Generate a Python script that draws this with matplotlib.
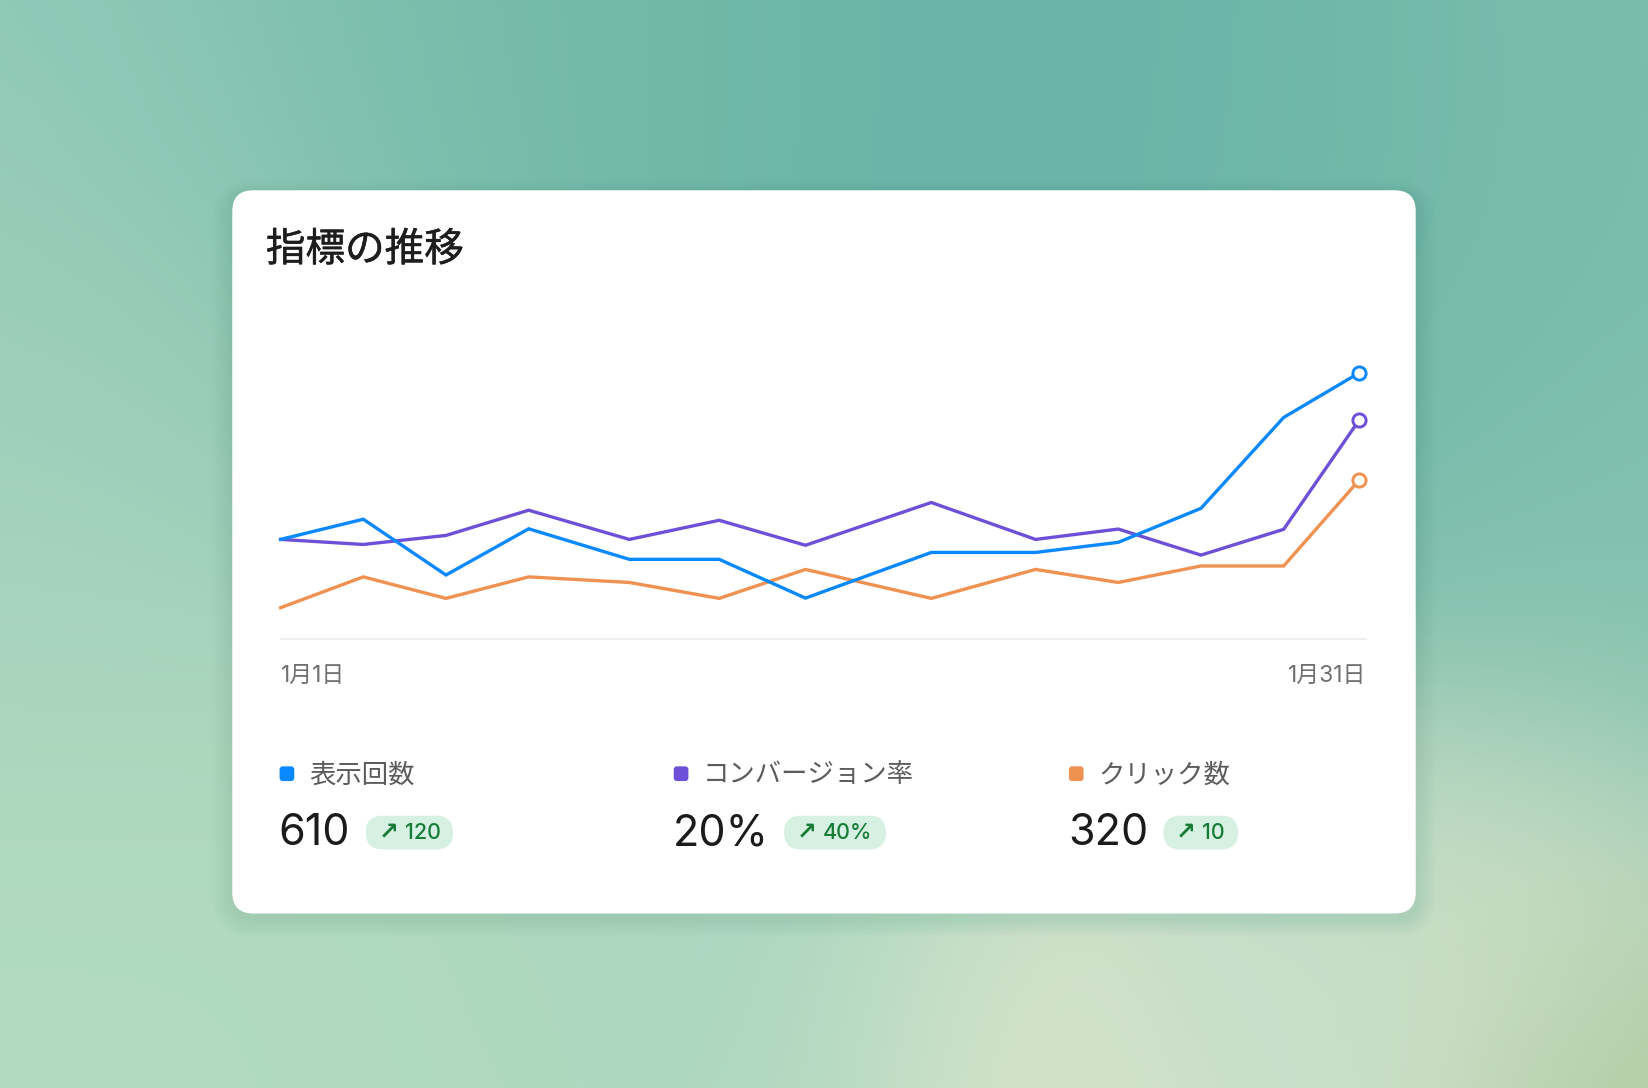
import numpy as np
import matplotlib
matplotlib.use("Agg")
import matplotlib.pyplot as plt
from matplotlib.patches import FancyBboxPatch
from matplotlib.colors import to_rgb
import matplotlib.transforms as mtransforms
import matplotlib.patheffects as pe

plt.rcParams["font.family"] = ["Inter", "Noto Sans CJK JP", "DejaVu Sans"]

# --- data ---
title = "指標の推移"
days = [1, 3.3, 5.6, 7.9, 10.7, 13.2, 15.6, 19.1, 22.0, 24.3, 26.6, 28.9, 31]
impressions = [37.3, 44.9, 23.9, 41.3, 29.8, 29.8, 15.2, 32.4, 32.4, 36.2, 49.0, 83.2, 100.0]
conversion = [37.3, 35.4, 38.8, 48.3, 37.3, 44.5, 35.1, 51.2, 37.3, 41.2, 31.4, 41.1, 82.2]
clicks = [11.6, 23.2, 15.1, 23.2, 21.1, 15.1, 26.0, 15.1, 26.0, 21.1, 27.3, 27.3, 59.6]
tick_days = [1, 31]
tick_labels = ["1月1日", "1月31日"]

metric_names = ["表示回数", "コンバージョン率", "クリック数"]
metric_values = ["610", "20%", "320"]
metric_deltas = ["120", "40%", "10"]
colors = ["#0a89ff", "#6e50d8", "#ef9150"]

# --- figure, drawn in a 1568x1035 reference grid ---
W, H = 1568, 1035
fig = plt.figure(figsize=(16.48, 10.88), dpi=100)
bg = fig.add_axes([0, 0, 1, 1])
bg.set_xlim(0, W)
bg.set_ylim(H, 0)
bg.axis("off")

# soft blurred backdrop
blobs = [
    (0, 60, "#92cab8", 200),
    (450, 60, "#78bdab", 250),
    (950, 80, "#68b2a6", 280),
    (1350, 120, "#6fb7a9", 250),
    (1568, 0, "#80c1b1", 200),
    (1568, 480, "#86c3b0", 230),
    (30, 420, "#a5d2bd", 220),
    (60, 960, "#b2dbbf", 240),
    (520, 1000, "#b0d9be", 220),
    (700, 900, "#a9d5c1", 160),
    (1000, 990, "#dee6cc", 150),
    (1200, 950, "#bedcc8", 130),
    (1420, 900, "#d6e2c8", 160),
    (1568, 1035, "#a8c79c", 110),
]
gx, gy = np.meshgrid(np.linspace(0, W, 200), np.linspace(0, H, 132))
acc = np.zeros(gx.shape + (3,))
wsum = np.zeros(gx.shape)
for bx, by, c, s in blobs:
    w = np.exp(-((gx - bx) ** 2 + (gy - by) ** 2) / (2 * s ** 2))
    acc += w[..., None] * np.array(to_rgb(c))
    wsum += w
img = acc / wsum[..., None]
bg.imshow(img, extent=(0, W, H, 0), interpolation="bicubic", aspect="auto", zorder=0)

# card with a faint shadow
cx, cy, cw, ch = 221, 181, 1126, 688
for i in range(1, 14):
    bg.add_patch(FancyBboxPatch((cx - i * 1.5, cy + 5 - i * 1.1), cw + i * 3.0, ch + i * 2.4,
                                boxstyle="round,pad=0,rounding_size=%g" % (20 + i * 1.5),
                                fc="#2d5e50", ec="none", alpha=0.006, zorder=1))
bg.add_patch(FancyBboxPatch((cx, cy), cw, ch, boxstyle="round,pad=0,rounding_size=20",
                            fc="white", ec="none", zorder=2))

bg.text(253, 238, title, fontsize=28.5, color="#1d1d1d", fontweight="normal",
        family=["Noto Sans CJK JP"], va="center", ha="left", zorder=3,
        path_effects=[pe.withStroke(linewidth=0.35, foreground="#1d1d1d")])

# metric summary blocks
col_x = [266, 641, 1017]
badge_w = [83, 97, 71]
num_w = [82, 105, 90]
for i in range(3):
    x0 = col_x[i]
    bg.add_patch(FancyBboxPatch((x0, 729), 14, 14, boxstyle="round,pad=0,rounding_size=3",
                                fc=colors[i], ec="none", zorder=3))
    bg.text(x0 + 28, 737, metric_names[i], fontsize=19, color="#5c5c5c",
            va="center", ha="left", family=["Noto Sans CJK JP"], zorder=3)
    bg.text(x0 - 1, 793, metric_values[i], fontsize=31, color="#1b1b1b",
            va="center", ha="left", zorder=3)
    bx = x0 + num_w[i]
    bg.add_patch(FancyBboxPatch((bx, 776), badge_w[i], 32, boxstyle="round,pad=0,rounding_size=16",
                                fc="#d6f1e1", ec="none", zorder=3))
    bg.text(bx + 12, 792, "↗", fontsize=17, color="#187c37", fontweight="bold",
            va="center", ha="left", family=["DejaVu Sans"], zorder=4)
    bg.text(bx + 37, 792, metric_deltas[i], fontsize=15.5, color="#187c37", fontweight="medium",
            va="center", ha="left", zorder=4)

# --- line chart ---
ax = fig.add_axes([267 / W, 1 - 607.4 / H, (1300 - 267) / W, (607.4 - 290) / H])
ax.set_facecolor("none")
ax.set_xlim(1, 31.2)
ax.set_ylim(0, 125.6)
series = [impressions, conversion, clicks]
for vals, c, z in zip(series, colors, [5, 4, 3]):
    ax.plot(days, vals, color=c, lw=2.4, solid_joinstyle="miter", zorder=z, clip_on=False)
    ax.plot(days[-1], vals[-1], "o", mfc="white", mec=c, ms=9.5, mew=2.1, zorder=6, clip_on=False)

for side in ["top", "right", "left"]:
    ax.spines[side].set_visible(False)
ax.spines["bottom"].set_color("#ebebeb")
ax.spines["bottom"].set_linewidth(1.2)
ax.set_yticks([])
ax.set_xticks(tick_days, tick_labels)
ax.tick_params(axis="x", length=0, pad=19, labelsize=16.5, labelcolor="#707070")
labs = ax.get_xticklabels()
labs[0].set_ha("left")
labs[1].set_ha("right")
labs[1].set_transform(labs[1].get_transform() +
                      mtransforms.ScaledTranslation(0.074, 0, fig.dpi_scale_trans))

fig.savefig("out.png", dpi=100)
